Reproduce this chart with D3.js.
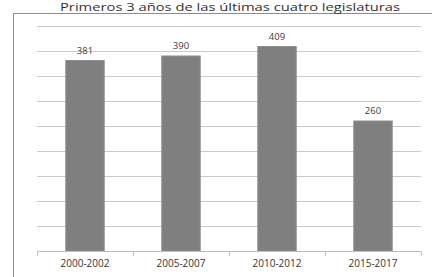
<!DOCTYPE html>
<html>
<head>
<meta charset="utf-8">
<script src="https://cdn.jsdelivr.net/npm/d3@7"></script>
<style>
  body { margin: 0; background: #fff; }
  svg { display: block; }
</style>
</head>
<body>
<div id="chart"></div>
<script>
"use strict";

// data
var periods = ["2000-2002", "2005-2007", "2010-2012", "2015-2017"];
var counts = [381, 390, 409, 260];
var yTicks = [0, 50, 100, 150, 200, 250, 300, 350, 400, 450];
var title = "Primeros 3 años de las últimas cuatro legislaturas";

var width = 432, height = 277;
var font = "'Open Sans', 'Liberation Sans', sans-serif";

var svg = d3.select("#chart").append("svg")
    .attr("width", width)
    .attr("height", height);

// frame of the chart (only the left and top edges show)
svg.append("rect")
    .attr("x", 13.5)
    .attr("y", 13.5)
    .attr("width", 440)
    .attr("height", 290)
    .attr("fill", "none")
    .attr("stroke", "#8c8c8c")
    .attr("stroke-width", 1);

var x = d3.scaleBand()
    .domain(periods)
    .range([37, 421])
    .paddingInner(0.6)
    .paddingOuter(0.3);

var y = d3.scaleLinear()
    .domain([0, 450])
    .range([251, 26]);

// horizontal gridlines
svg.append("g")
    .attr("class", "grid")
    .selectAll("line")
    .data(yTicks.slice(1))
    .enter()
    .append("line")
    .attr("x1", 37)
    .attr("x2", 421)
    .attr("y1", function (d) { return Math.round(y(d)) + 0.5; })
    .attr("y2", function (d) { return Math.round(y(d)) + 0.5; })
    .attr("stroke", "#c9c9c9")
    .attr("stroke-width", 1);

// bars
svg.append("g")
    .selectAll("rect")
    .data(counts)
    .enter()
    .append("rect")
    .attr("x", function (d, i) { return x(periods[i]); })
    .attr("y", function (d) { return y(d); })
    .attr("width", x.bandwidth())
    .attr("height", function (d) { return y(0) - y(d); })
    .attr("fill", "#7f7f7f")
    .attr("stroke", "#8e8e8e")
    .attr("stroke-width", 1);

// baseline axis with tick marks between the categories
var xAxis = d3.axisBottom(x).tickSize(0).tickPadding(8);
var axisG = svg.append("g")
    .attr("transform", "translate(0," + (Math.round(y(0)) + 0.5) + ")")
    .call(xAxis);
axisG.select(".domain").attr("stroke", "#bdbdbd").attr("d", "M37,0H421");
axisG.selectAll("text")
    .attr("font-family", font)
    .attr("font-size", 10)
    .attr("fill", "#333");

var step = x.step();
var bounds = d3.range(periods.length + 1).map(function (i) { return 37 + i * step; });
axisG.selectAll(".sep")
    .data(bounds)
    .enter()
    .append("line")
    .attr("class", "sep")
    .attr("x1", function (d) { return Math.round(d) + 0.5; })
    .attr("x2", function (d) { return Math.round(d) + 0.5; })
    .attr("y1", 0)
    .attr("y2", 4)
    .attr("stroke", "#bdbdbd");

// value labels over the bars
svg.append("g")
    .selectAll("text")
    .data(counts)
    .enter()
    .append("text")
    .attr("x", function (d, i) { return x(periods[i]) + x.bandwidth() / 2; })
    .attr("y", function (d) { return y(d) - 7; })
    .attr("text-anchor", "middle")
    .attr("font-family", font)
    .attr("font-size", 9.5)
    .attr("fill", "#404040")
    .text(function (d) { return d; });

// title, sitting right on the top edge
svg.append("text")
    .attr("x", 60)
    .attr("y", 10.5)
    .attr("textLength", 340)
    .attr("lengthAdjust", "spacingAndGlyphs")
    .attr("font-family", font)
    .attr("font-size", 11.5)
    .attr("fill", "#333")
    .text(title);
</script>
</body>
</html>
